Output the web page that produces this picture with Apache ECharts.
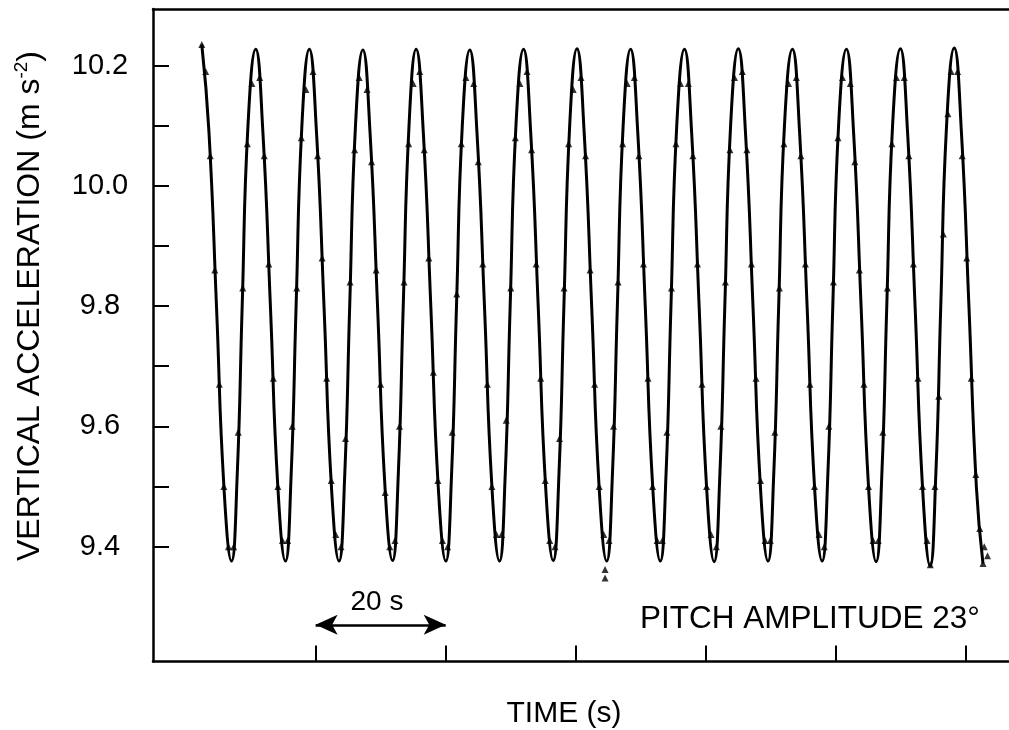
<!DOCTYPE html>
<html>
<head>
<meta charset="utf-8">
<script src="https://cdn.jsdelivr.net/npm/echarts@6/dist/echarts.min.js"></script>
<style>
html,body{margin:0;padding:0;background:#fff;}
#chart{width:1009px;height:730px;}
</style>
</head>
<body>
<div id="chart"></div>
<script>
// Time in seconds (from the left axis), vertical acceleration in m s^-2
var curve = [
  [7.50,10.235],[8.60,10.09],[9.76,9.80],[10.90,9.50],[12.07,9.376],[12.95,9.52],[13.71,9.80],[14.60,10.10],
  [15.79,10.227],[16.89,10.09],[18.05,9.80],[19.19,9.50],[20.36,9.376],[21.24,9.52],[22.00,9.80],[22.89,10.10],
  [24.03,10.227],[25.13,10.09],[26.29,9.80],[27.43,9.50],[28.60,9.376],[29.48,9.52],[30.24,9.80],[31.13,10.10],
  [32.26,10.226],[33.36,10.09],[34.52,9.80],[35.66,9.50],[36.83,9.377],[37.71,9.52],[38.47,9.80],[39.36,10.10],
  [40.45,10.227],[41.55,10.09],[42.71,9.80],[43.85,9.50],[45.02,9.376],[45.90,9.52],[46.66,9.80],[47.55,10.10],
  [48.70,10.226],[49.80,10.09],[50.96,9.80],[52.10,9.50],[53.27,9.376],[54.15,9.52],[54.91,9.80],[55.80,10.10],
  [56.96,10.227],[58.06,10.09],[59.22,9.80],[60.36,9.50],[61.53,9.377],[62.41,9.52],[63.17,9.80],[64.06,10.10],
  [65.18,10.228],[66.28,10.09],[67.44,9.80],[68.58,9.50],[69.75,9.376],[70.63,9.52],[71.39,9.80],[72.28,10.10],
  [73.42,10.227],[74.52,10.09],[75.68,9.80],[76.82,9.50],[77.99,9.376],[78.87,9.52],[79.63,9.80],[80.52,10.10],
  [81.70,10.227],[82.80,10.09],[83.96,9.80],[85.10,9.50],[86.27,9.375],[87.15,9.52],[87.91,9.80],[88.80,10.10],
  [89.98,10.228],[91.08,10.09],[92.24,9.80],[93.38,9.50],[94.55,9.376],[95.43,9.52],[96.19,9.80],[97.08,10.10],
  [98.30,10.227],[99.40,10.09],[100.56,9.80],[101.70,9.50],[102.87,9.376],[103.75,9.52],[104.51,9.80],[105.40,10.10],
  [106.60,10.227],[107.70,10.09],[108.86,9.80],[110.00,9.50],[111.17,9.375],[112.05,9.52],[112.81,9.80],[113.70,10.10],
  [114.90,10.228],[116.00,10.09],[117.16,9.80],[118.30,9.50],[119.47,9.368],[120.35,9.52],[121.11,9.80],[122.00,10.10],
  [123.18,10.229],[124.28,10.09],[125.44,9.80],[126.58,9.50],[127.60,9.372]
];

var measured = [
  [7.50,10.235],[8.1,10.19],[8.8,10.05],[9.5,9.86],[10.2,9.67],[10.9,9.50],[11.6,9.40],[12.4,9.40],[13.1,9.59],[13.8,9.83],[14.5,10.07],[15.2,10.17],
  [16.4,10.18],[17.1,10.05],[17.8,9.87],[18.5,9.68],[19.2,9.50],[19.9,9.41],[20.7,9.41],[21.4,9.60],[22.1,9.83],[22.8,10.08],[23.5,10.16],
  [24.6,10.19],[25.3,10.05],[26.0,9.88],[26.7,9.68],[27.4,9.51],[28.1,9.42],[28.9,9.40],[29.6,9.58],[30.3,9.84],[31.0,10.06],[31.7,10.18],
  [32.9,10.16],[33.6,10.04],[34.3,9.86],[35.0,9.67],[35.7,9.49],[36.4,9.40],[37.2,9.41],[37.9,9.60],[38.6,9.84],[39.3,10.07],[40.0,10.17],
  [41.0,10.19],[41.7,10.06],[42.4,9.88],[43.1,9.69],[43.8,9.51],[44.5,9.41],[45.3,9.40],[46.0,9.59],[46.7,9.82],[47.4,10.07],[48.1,10.18],
  [49.3,10.17],[50.0,10.04],[50.7,9.87],[51.4,9.67],[52.1,9.50],[52.8,9.42],[53.6,9.42],[54.3,9.61],[55.0,9.83],[55.7,10.08],[56.4,10.17],
  [57.5,10.19],[58.2,10.06],[58.9,9.87],[59.6,9.68],[60.3,9.51],[61.0,9.41],[61.8,9.40],[62.5,9.58],[63.2,9.83],[63.9,10.07],[64.6,10.16],
  [65.8,10.18],[66.5,10.05],[67.2,9.86],[67.9,9.67],[68.6,9.50],[69.3,9.42],[69.5,9.362],[69.5,9.348],[70.1,9.41],[70.8,9.60],[71.5,9.84],[72.2,10.07],[72.9,10.17],
  [74.0,10.18],[74.7,10.05],[75.4,9.87],[76.1,9.68],[76.8,9.50],[77.5,9.41],[78.3,9.41],[79.0,9.59],[79.7,9.83],[80.4,10.07],[81.1,10.17],
  [82.3,10.17],[83.0,10.05],[83.7,9.87],[84.4,9.67],[85.1,9.50],[85.8,9.42],[86.6,9.40],[87.3,9.60],[88.0,9.84],[88.7,10.06],[89.4,10.18],
  [90.6,10.19],[91.3,10.06],[92.0,9.87],[92.7,9.68],[93.4,9.51],[94.1,9.41],[94.9,9.41],[95.6,9.59],[96.3,9.83],[97.0,10.07],[97.7,10.17],
  [98.9,10.18],[99.6,10.05],[100.3,9.87],[101.0,9.67],[101.7,9.50],[102.4,9.42],[103.2,9.40],[103.9,9.60],[104.6,9.84],[105.3,10.08],[106.0,10.18],
  [107.2,10.17],[107.9,10.04],[108.6,9.86],[109.3,9.67],[110.0,9.50],[110.7,9.41],[111.5,9.41],[112.2,9.59],[112.9,9.83],[113.6,10.07],[114.3,10.18],
  [115.5,10.18],[116.2,10.05],[116.9,9.87],[117.6,9.68],[118.3,9.50],[119.0,9.41],[119.5,9.37],[120.2,9.50],[120.8,9.65],[121.5,9.92],[122.2,10.12],[122.7,10.19],
  [123.7,10.19],[124.4,10.05],[125.1,9.88],[125.8,9.68],[126.5,9.52],[127.1,9.43],[127.6,9.372],[127.8,9.40],[128.3,9.385]
];

var yTickValues = [9.4, 9.5, 9.6, 9.7, 9.8, 9.9, 10.0, 10.1, 10.2];
var yLabelValues = [9.4, 9.6, 9.8, 10.0, 10.2];
var xTickValues = [25, 45, 65, 85, 105, 125];
var scaleBar = [25, 45];          // the "20 s" arrow, in seconds
var scaleBarLevel = 9.27;

var FONT = '"Liberation Sans", Arial, Helvetica, sans-serif';
var chart = echarts.init(document.getElementById('chart'), null, {renderer: 'canvas'});

var option = {
  animation: false,
  backgroundColor: '#ffffff',
  grid: {left: 153, right: 0, top: 9, bottom: 68.5, containLabel: false},
  xAxis: [{
    type: 'value', min: 0, max: 131.6, position: 'bottom',
    axisLine: {show: true, onZero: false, lineStyle: {color: '#000', width: 2.5}},
    axisTick: {show: true, inside: true, length: 16, customValues: xTickValues, lineStyle: {color: '#000', width: 2}},
    axisLabel: {show: false},
    splitLine: {show: false}
  }, {
    type: 'value', min: 0, max: 131.6, position: 'top',
    axisLine: {show: true, onZero: false, lineStyle: {color: '#000', width: 2.5}},
    axisTick: {show: false}, axisLabel: {show: false}, splitLine: {show: false}
  }],
  yAxis: {
    type: 'value', min: 9.209, max: 10.294,
    axisLine: {show: true, onZero: false, lineStyle: {color: '#000', width: 2.5}},
    axisTick: {show: true, inside: true, length: 16, customValues: yTickValues, lineStyle: {color: '#000', width: 2}},
    axisLabel: {
      show: true, customValues: yLabelValues, margin: 53, align: 'center',
      fontFamily: FONT, fontSize: 29, color: '#000',
      formatter: function (v) { return Number(v).toFixed(1); }
    },
    splitLine: {show: false}
  },
  series: [{
    type: 'line', data: curve, smooth: 0.5, showSymbol: false, symbol: 'none',
    lineStyle: {color: '#000', width: 3}, silent: true, z: 3
  }, {
    type: 'scatter', data: measured, symbol: 'triangle', symbolSize: 7,
    itemStyle: {color: '#000'}, silent: true, z: 4,
    markLine: {
      silent: true, symbol: ['arrow', 'arrow'], symbolSize: [15, 22],
      label: {show: false},
      lineStyle: {color: '#000', width: 2.5, type: 'solid'},
      data: [[{coord: [scaleBar[0], scaleBarLevel]}, {coord: [scaleBar[1], scaleBarLevel]}]]
    }
  }],
  graphic: [{
    type: 'text', x: 30, y: 306, rotation: Math.PI / 2,
    style: {
      text: 'VERTICAL ACCELERATION (m s{sup|-2})',
      rich: {sup: {fontSize: 19, fontFamily: FONT, fill: '#000', verticalAlign: 'top', lineHeight: 36}},
      fontFamily: FONT, fontSize: 32, fill: '#000', lineHeight: 36,
      align: 'center', verticalAlign: 'middle'
    }
  }, {
    type: 'text', x: 564, y: 714,
    style: {text: 'TIME (s)', fontFamily: FONT, fontSize: 30, fill: '#000', align: 'center', verticalAlign: 'middle'}
  }, {
    type: 'text', x: 377, y: 602,
    style: {text: '20 s', fontFamily: FONT, fontSize: 28, fill: '#000', align: 'center', verticalAlign: 'middle'}
  }, {
    type: 'text', x: 640, y: 619,
    style: {text: 'PITCH AMPLITUDE 23\u00B0', fontFamily: FONT, fontSize: 31.5, fill: '#000', align: 'left', verticalAlign: 'middle'}
  }]
};
chart.setOption(option);
</script>
</body>
</html>
